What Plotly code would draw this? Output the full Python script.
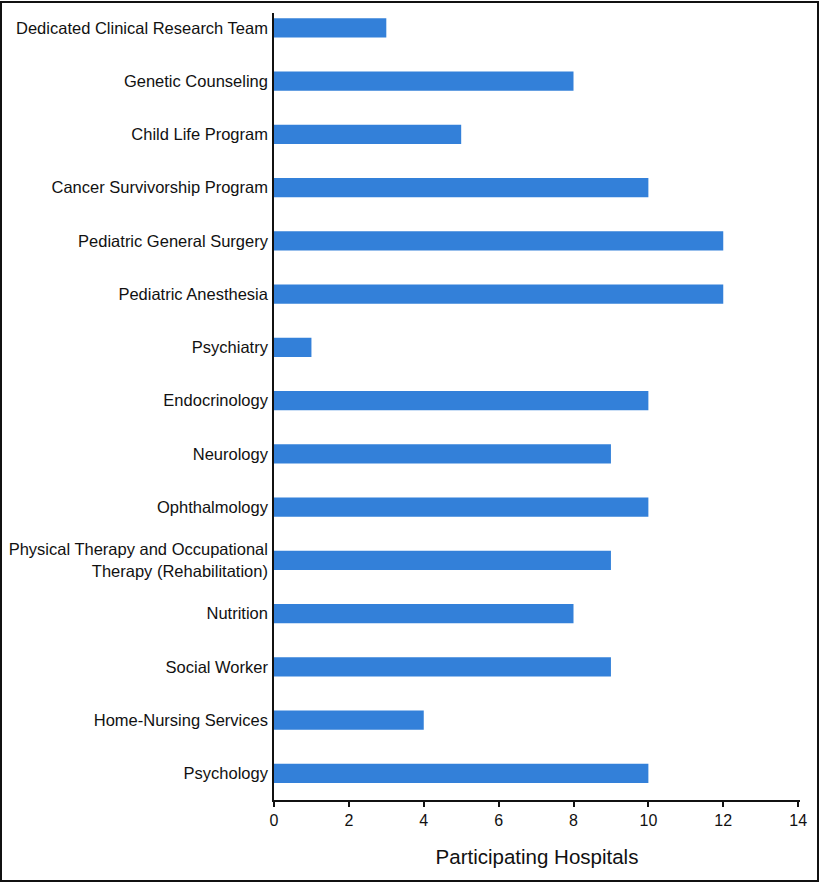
import plotly.graph_objects as go

categories = [
    "Dedicated Clinical Research Team",
    "Genetic Counseling",
    "Child Life Program",
    "Cancer Survivorship Program",
    "Pediatric General Surgery",
    "Pediatric Anesthesia",
    "Psychiatry",
    "Endocrinology",
    "Neurology",
    "Ophthalmology",
    "Physical Therapy and Occupational<br>Therapy (Rehabilitation)",
    "Nutrition",
    "Social Worker",
    "Home-Nursing Services",
    "Psychology",
]
values = [3, 8, 5, 10, 12, 12, 1, 10, 9, 10, 9, 8, 9, 4, 10]
x_ticks = [0, 2, 4, 6, 8, 10, 12, 14]

W, H = 819, 882
ml, mr, mt, mb = 274, 19, 13, 82
pw = W - ml - mr
ph = H - mt - mb

fig = go.Figure(go.Bar(
    x=values, y=categories, orientation="h",
    marker=dict(color="#3380d9", line=dict(width=0)),
    width=0.36,
))

fig.update_layout(
    width=W, height=H,
    margin=dict(l=ml, r=mr, t=mt, b=mb, pad=0, autoexpand=False),
    paper_bgcolor="white", plot_bgcolor="white",
    showlegend=False,
    font=dict(family="Liberation Sans, Arial, sans-serif", size=16.5, color="#111"),
    xaxis=dict(
        range=[0, 14.05], tickvals=x_ticks, ticks="outside", ticklen=5,
        tickcolor="#111", tickwidth=1.5, automargin=False,
        showline=True, linecolor="#111", linewidth=1.5, showgrid=False, zeroline=False,
        tickfont=dict(size=16),
        title=dict(text="Participating Hospitals",
                   font=dict(family="Liberation Sans Narrow, Liberation Sans, Arial", size=20.5),
                   standoff=22),
    ),
    yaxis=dict(
        type="category", categoryorder="array", categoryarray=categories,
        range=[14.5, -0.28], automargin=False,
        showline=True, linecolor="#111", linewidth=1.5, showgrid=False,
        ticks="", ticklabelstandoff=1,
        tickfont=dict(size=16.5),
    ),
    shapes=[dict(
        type="rect", xref="paper", yref="paper",
        x0=-(ml - 1) / pw, x1=1 + (mr - 1) / pw,
        y0=-(mb - 1) / ph, y1=1 + (mt - 2) / ph,
        line=dict(color="#111", width=2),
    )],
)

fig.write_html(
    "out.html",
    config={"displayModeBar": False},
    post_script="document.body.style.margin='0';document.body.style.padding='0';",
)
